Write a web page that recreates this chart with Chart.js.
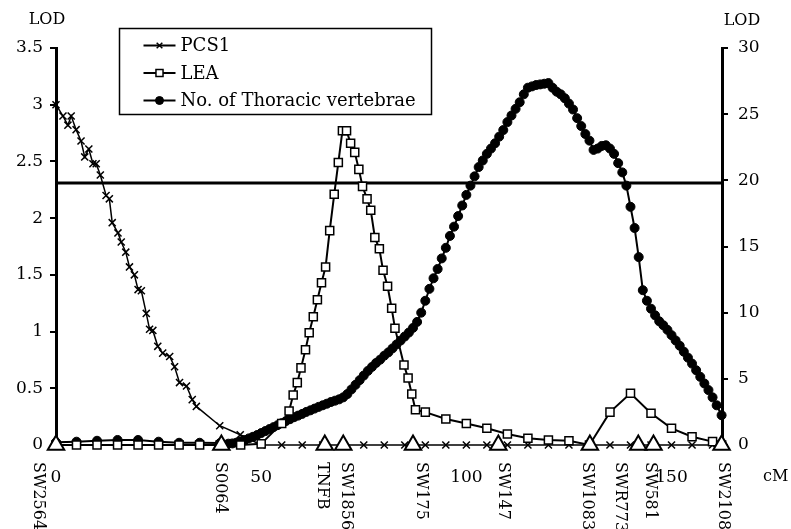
<!DOCTYPE html>
<html><head><meta charset="utf-8">
<script src="https://cdn.jsdelivr.net/npm/chart.js@4.4.1/dist/chart.umd.min.js"></script>
<style>html,body{margin:0;padding:0;background:#fff;}</style>
</head><body>
<canvas id="c" width="791" height="529"></canvas>
<script>
// ---- data ----
const pcs1CM  = [0,1.7,2.9,3.7,4.9,6.1,7.0,8.0,9.0,9.8,10.8,12.2,13.0,13.7,15.1,15.9,17.0,17.9,19.1,20.0,20.8,22.0,22.8,23.6,24.8,26.0,27.7,28.9,30.1,31.8,33.2,34.2,39.9,44.9,50,55,60,65,70,75,80,85,90,95,100,105,110,115,120,125,130,135,140,145,150,155,160];
const pcs1LOD = [3.0,2.9,2.82,2.9,2.78,2.68,2.54,2.61,2.48,2.48,2.38,2.2,2.17,1.96,1.87,1.79,1.70,1.57,1.50,1.37,1.36,1.16,1.02,1.01,0.87,0.81,0.78,0.69,0.55,0.52,0.40,0.34,0.17,0.09,0,0,0,0,0,0,0,0,0,0,0,0,0,0,0,0,0,0,0,0,0,0,0];

const leaCM  = [0,5,10,15,20,25,30,35,40,45,50,55,56.8,57.8,58.8,59.7,60.8,61.7,62.7,63.7,64.7,65.7,66.7,67.8,68.8,69.8,70.8,71.8,72.8,73.8,74.7,75.8,76.7,77.7,78.8,79.7,80.8,81.8,82.6,84.8,85.8,86.7,87.6,90,95,100,105,110,115,120,125,130,135,140,145,150,155,160,162.2];
const leaLOD = [0,0,0,0,0,0,0,0,0,0,0.01,0.19,0.30,0.44,0.55,0.68,0.84,0.99,1.13,1.28,1.43,1.57,1.89,2.21,2.49,2.77,2.77,2.66,2.58,2.43,2.28,2.17,2.07,1.83,1.73,1.54,1.40,1.205,1.03,0.705,0.59,0.45,0.31,0.29,0.23,0.19,0.147,0.097,0.06,0.044,0.038,0,0.29,0.456,0.28,0.147,0.073,0.03,0];

const thorCM  = [0,5,10,15,20,25,30,35,40,42,43,44,45,46,47,48,49,50,51,52,53,54,55,56,57,58,59,60,61,62,63,64,65,66,67,68,69,70,71,72,73,74,75,76,77,78,79,80,81,82,83,84,85,86,87,88,89,90,91,92,93,94,95,96,97,98,99,100,101,102,103,104,105,106,107,108,109,110,111,112,113,114,115,116,117,118,119,120,121,122,123,124,125,126,127,128,129,130,131,132,133,134,135,136,137,138,139,140,141,142,143,144,145,146,147,148,149,150,151,152,153,154,155,156,157,158,159,160,161,162.2];
const thorLOD = [0.2,0.25,0.32,0.38,0.38,0.25,0.17,0.17,0.15,0.1,0.12,0.18,0.28,0.38,0.5,0.62,0.75,0.9,1.05,1.2,1.35,1.5,1.65,1.8,1.95,2.1,2.22,2.35,2.5,2.62,2.75,2.88,3.0,3.12,3.25,3.35,3.45,3.6,3.85,4.2,4.55,4.9,5.25,5.6,5.9,6.2,6.45,6.75,7.0,7.3,7.6,7.9,8.2,8.5,8.85,9.3,10.0,10.9,11.8,12.6,13.3,14.1,14.9,15.8,16.5,17.3,18.1,18.9,19.6,20.3,21.0,21.5,22.0,22.4,22.8,23.3,23.8,24.4,24.9,25.4,25.9,26.5,27.0,27.1,27.2,27.25,27.3,27.35,27.0,26.7,26.5,26.2,25.8,25.35,24.7,24.1,23.5,23.0,22.3,22.4,22.6,22.65,22.4,22.0,21.3,20.6,19.6,18.0,16.4,14.2,11.7,10.9,10.3,9.8,9.35,9.05,8.7,8.3,7.9,7.5,7.05,6.6,6.15,5.65,5.15,4.65,4.15,3.6,3.0,2.25];

const markerNames = ['SW2564','S0064','TNFB','SW1856','SW175','SW147','SW1083','SWR773','SW581','SW2108'];
const markerCM    = [0,40.3,65.5,70.0,87.0,107.8,130.1,141.9,145.6,162.2];

const thresholdLOD = 2.31;
const xTicks = [0,50,100,150];
const xMax = 162.3;
const seriesNames = ['PCS1','LEA','No. of Thoracic vertebrae'];
const axisTitleLeft = 'LOD', axisTitleRight = 'LOD', axisTitleX = 'cM';

// ---- build ----
const pts = (xs, ys) => xs.map((x, i) => ({x, y: ys[i]}));
const FONT = '"DejaVu Serif", "Liberation Serif", serif';

const overlay = {
  id: 'overlay',
  afterDraw(chart, args, opts) {
    const ctx = chart.ctx, xs = chart.scales.x;
    ctx.save();
    ctx.fillStyle = '#000'; ctx.strokeStyle = '#000';
    ctx.font = '16px ' + FONT;
    ctx.textBaseline = 'middle'; ctx.textAlign = 'center';
    ctx.fillText(axisTitleLeft, 47, 20);
    ctx.fillText(axisTitleRight, 742, 21);
    ctx.textAlign = 'left';
    ctx.fillText(axisTitleX, 763, 477);
    // marker labels, rotated (reading top to bottom)
    ctx.font = '16px ' + FONT;
    markerNames.forEach((name, i) => {
      const px = xs.getPixelForValue(markerCM[i]) + opts.nudge[i];
      ctx.save();
      ctx.translate(px, 462);
      ctx.rotate(Math.PI / 2);
      ctx.textAlign = 'left'; ctx.textBaseline = 'middle';
      ctx.fillText(name, 0, 0);
      ctx.restore();
    });
    // legend box
    const L = opts.legend;
    ctx.fillStyle = '#fff';
    ctx.fillRect(L.x, L.y, L.w, L.h);
    ctx.lineWidth = 1.5; ctx.strokeStyle = '#000';
    ctx.strokeRect(L.x, L.y, L.w, L.h);
    ctx.font = '18px ' + FONT;
    ctx.textAlign = 'left'; ctx.textBaseline = 'middle';
    L.items.forEach((di, k) => {
      const ds = chart.data.datasets[di];
      const y = L.y + L.first + k * L.gap;
      ctx.lineWidth = 2; ctx.strokeStyle = '#000';
      ctx.beginPath(); ctx.moveTo(L.x + 24, y); ctx.lineTo(L.x + 56, y); ctx.stroke();
      ctx.fillStyle = ds.pointBackgroundColor || '#000';
      ctx.lineWidth = ds.pointBorderWidth || 1.5;
      Chart.helpers.drawPoint(ctx, {pointStyle: ds.pointStyle, radius: L.r[k], rotation: 0, borderWidth: ds.pointBorderWidth || 1.5}, L.x + 40, y);
      ctx.fillStyle = '#000';
      ctx.fillText(ds.label, L.x + 61, y + 1);
    });
    ctx.restore();
  }
};

new Chart(document.getElementById('c'), {
  type: 'line',
  data: {
    datasets: [
      { label: 'markers', data: markerCM.map(x => ({x, y: 0})), showLine: false, pointStyle: 'triangle', pointRadius: 9.5,
        pointBackgroundColor: '#fff', pointBorderColor: '#000', pointBorderWidth: 2, borderColor: '#000', order: 0, yAxisID: 'y', clip: false },
      { label: seriesNames[0], data: pts(pcs1CM, pcs1LOD), borderColor: '#000', borderWidth: 1.5, pointStyle: 'crossRot', pointRadius: 5,
        pointBorderColor: '#000', pointBackgroundColor: '#000', pointBorderWidth: 1.5, order: 2, yAxisID: 'y', clip: false },
      { label: seriesNames[1], data: pts(leaCM, leaLOD), borderColor: '#000', borderWidth: 2, pointStyle: 'rect', pointRadius: 5.7,
        pointBorderColor: '#000', pointBackgroundColor: '#fff', pointBorderWidth: 1.5, order: 1, yAxisID: 'y', clip: false },
      { label: seriesNames[2], data: pts(thorCM, thorLOD), borderColor: '#000', borderWidth: 2, pointStyle: 'circle', pointRadius: 4.5,
        pointBorderColor: '#000', pointBackgroundColor: '#000', pointBorderWidth: 1, order: 3, yAxisID: 'y2', clip: false },
      { label: 'threshold', data: [{x: 0, y: thresholdLOD}, {x: xMax, y: thresholdLOD}], borderColor: '#000', borderWidth: 3,
        pointRadius: 0, order: 4, yAxisID: 'y' }
    ]
  },
  options: {
    responsive: false, animation: false, events: [],
    layout: { padding: { top: 48, left: 0, right: 0, bottom: 0 } },
    elements: { line: { tension: 0 } },
    plugins: {
      legend: { display: false }, tooltip: { enabled: false },
      overlay: {
        nudge: [-18, -1, -3, 3, 8, 5, -3, -18, -3, 2],
        legend: { x: 119.5, y: 28.5, w: 312, h: 86, first: 17, gap: 27.5, items: [1, 2, 3], r: [4, 5, 4] }
      }
    },
    scales: {
      x: {
        type: 'linear', position: 'bottom', min: 0, max: xMax,
        grid: { display: false, drawTicks: false }, border: { display: false },
        afterBuildTicks: (s) => { s.ticks = xTicks.map(v => ({value: v})); },
        afterFit: (s) => { s.height = 84; },
        ticks: { color: '#000', font: { family: FONT, size: 17 }, padding: 22, maxRotation: 0, autoSkip: false }
      },
      y: {
        type: 'linear', position: 'left', min: 0, max: 3.5,
        ticks: { stepSize: 0.5, color: '#000', font: { family: FONT, size: 17 }, padding: 7, callback: (v) => String(v) },
        grid: { drawOnChartArea: false, drawTicks: true, tickLength: 6, color: '#000', lineWidth: 2 },
        border: { display: true, color: '#000', width: 3 },
        afterFit: (s) => { s.width = 56; }
      },
      y2: {
        type: 'linear', position: 'right', min: 0, max: 30,
        ticks: { stepSize: 5, color: '#000', font: { family: FONT, size: 17 }, padding: 10, callback: (v) => String(v) },
        grid: { drawOnChartArea: false, drawTicks: true, tickLength: 6, color: '#000', lineWidth: 2 },
        border: { display: true, color: '#000', width: 3 },
        afterFit: (s) => { s.width = 69; }
      }
    }
  },
  plugins: [overlay]
});
</script>
</body></html>
